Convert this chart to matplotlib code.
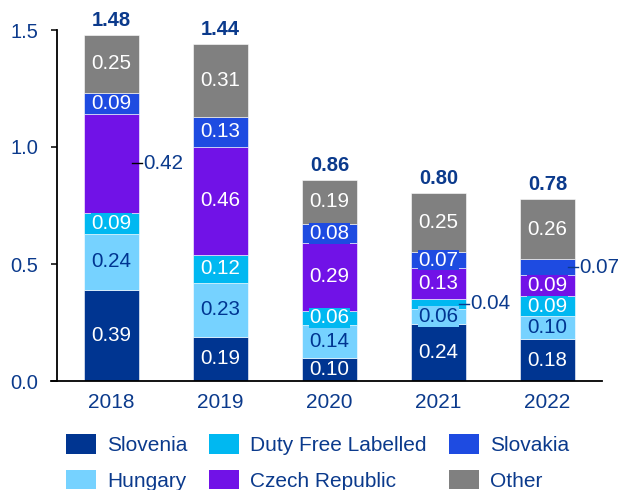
import matplotlib
matplotlib.use("Agg")
import matplotlib.pyplot as plt
from matplotlib.patches import Patch
import numpy as np

plt.rcParams['font.family'] = ['Liberation Sans', 'DejaVu Sans']

years = ["2018", "2019", "2020", "2021", "2022"]
series = ["Slovenia", "Hungary", "Duty Free Labelled", "Czech Republic", "Slovakia", "Other"]
slovenia = [0.39, 0.19, 0.10, 0.244, 0.178]
hungary = [0.24, 0.23, 0.14, 0.064, 0.098]
duty_free = [0.09, 0.12, 0.06, 0.043, 0.088]
czech = [0.42, 0.46, 0.29, 0.131, 0.088]
slovakia = [0.09, 0.13, 0.08, 0.068, 0.068]
other = [0.25, 0.31, 0.19, 0.253, 0.258]
yticks = [0.0, 0.5, 1.0, 1.5]

data = [slovenia, hungary, duty_free, czech, slovakia, other]
colors = ["#003591", "#76D2FF", "#00B8F1", "#7112E7", "#1E4BE1", "#808080"]
label_colors = ["white", "#003591", "white", "white", "white", "white"]
navy = "#0B3A8C"
FS = 14.8
# segments whose label is drawn outside the bar (year index, series index)
outside = {(0, 3), (3, 2), (4, 4)}

fig = plt.figure(figsize=(6.22, 4.90), dpi=100)
ax = fig.add_axes([57/622, 1-381/490, 545/622, 351/490])

x = np.arange(len(years))
width = 0.505
bottom = np.zeros(len(years))
for si, (vals, col) in enumerate(zip(data, colors)):
    vals = np.array(vals)
    ax.bar(x, vals, width, bottom=bottom, color=col, edgecolor="white", linewidth=0.4, zorder=2)
    for i, v in enumerate(vals):
        yc = bottom[i] + v / 2
        if (i, si) in outside:
            xr = x[i] + width / 2
            ax.plot([xr - 0.06, xr + 0.03], [yc, yc], color=navy if i else "black", lw=1, zorder=3, clip_on=False)
            ax.text(xr + 0.035, yc, f"{v:.2f}", ha="left", va="center", fontsize=FS, color=navy, zorder=4)
        else:
            ax.text(x[i], yc, f"{v:.2f}", ha="center", va="center", fontsize=FS,
                    color=label_colors[si], zorder=4,
                    bbox=dict(boxstyle="square,pad=0.03", fc=col, ec="none"))
    bottom = bottom + vals

for i, tot in enumerate(bottom):
    ax.annotate(f"{tot:.2f}", (x[i], tot), xytext=(0, 3.4), textcoords="offset points",
                ha="center", va="bottom", fontsize=14.5, fontweight="bold", color=navy,
                annotation_clip=False)

ax.set_xlim(-0.5, 4.5)
ax.set_ylim(0, 1.5)
ax.set_xticks(x)
ax.set_xticklabels(years)
ax.set_yticks(yticks)
ax.set_yticklabels([f"{t:.1f}" for t in yticks])
ax.tick_params(axis="x", length=0, pad=8.4, labelsize=15, labelcolor=navy)
ax.tick_params(axis="y", length=4.3, width=1.1, pad=9.4, labelsize=14.5, labelcolor=navy, direction="out")
for s in ["top", "right"]:
    ax.spines[s].set_visible(False)
for s in ["left", "bottom"]:
    ax.spines[s].set_linewidth(1.3)
    ax.spines[s].set_color("black")
ax.spines["bottom"].set_bounds(-0.5 - 6/109, 4.5)

handles = [Patch(facecolor=c, edgecolor="none") for c in colors]
fig.legend(handles, series, ncol=3, loc="upper left", bbox_to_anchor=(66/622, 1-434/490),
           frameon=False, fontsize=15, handlelength=1.44, handleheight=1.09,
           handletextpad=0.53, columnspacing=1.05, labelspacing=0.7, borderpad=0,
           borderaxespad=0, labelcolor=navy)

fig.savefig("out.png", dpi=100)
